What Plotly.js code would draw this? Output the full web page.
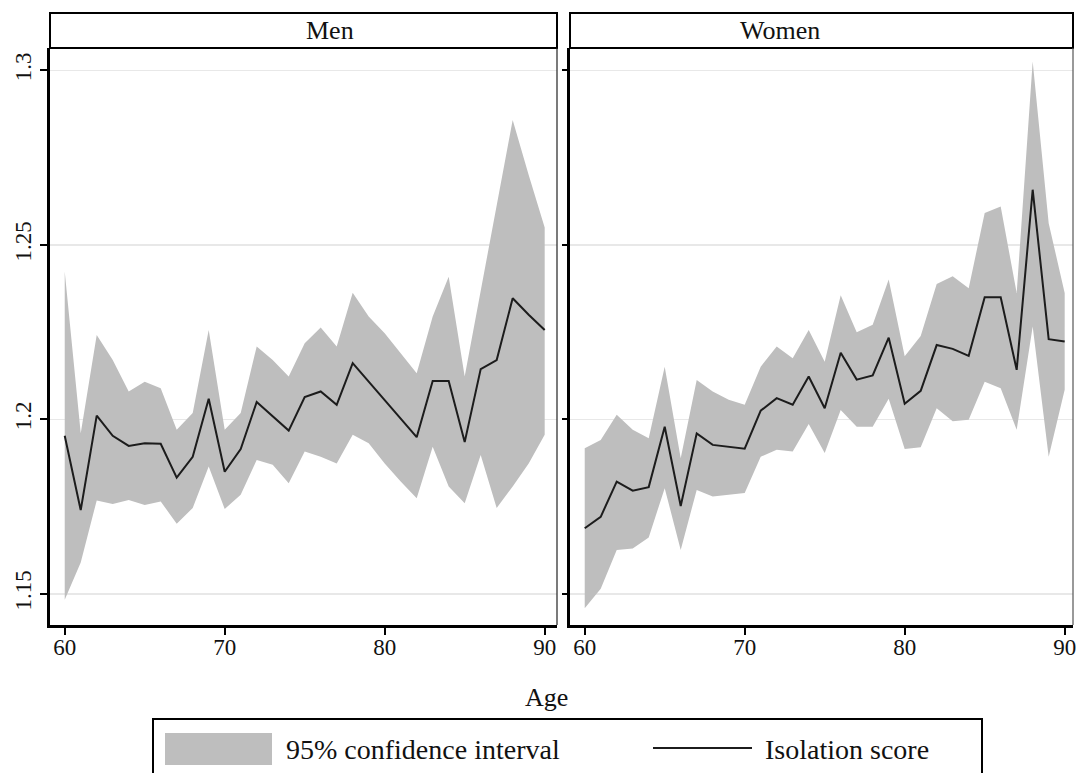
<!DOCTYPE html>
<html>
<head>
<meta charset="utf-8">
<script src="https://cdn.plot.ly/plotly-3.0.1.min.js"></script>
<style>html,body{margin:0;padding:0;background:#fff;}#chart{width:1076px;height:773px;}</style>
</head>
<body>
<div id="chart"></div>
<script>
const ages = [60,61,62,63,64,65,66,67,68,69,70,71,72,73,74,75,76,77,78,79,80,81,82,83,84,85,86,87,88,89,90];

const menScore = [1.1953,1.1740,1.2011,1.1953,1.1924,1.1932,1.1930,1.1833,1.1893,1.2059,1.1850,1.1915,1.2050,1.2008,1.1968,1.2064,1.2080,1.2042,1.2161,1.2108,1.2056,1.2002,1.1949,1.2110,1.2110,1.1935,1.2144,1.2170,1.2347,1.2300,1.2256];
const menUpper = [1.2424,1.1960,1.2242,1.2170,1.2080,1.2108,1.2089,1.1970,1.2018,1.2256,1.1970,1.2018,1.2209,1.2170,1.2123,1.2218,1.2263,1.2209,1.2363,1.2295,1.2247,1.2190,1.2132,1.2295,1.2409,1.2123,1.2371,1.2610,1.2858,1.2700,1.2550];
const menLower = [1.1483,1.1590,1.1768,1.1758,1.1769,1.1755,1.1765,1.1701,1.1746,1.1865,1.1743,1.1784,1.1884,1.1870,1.1817,1.1908,1.1893,1.1874,1.1956,1.1932,1.1874,1.1822,1.1774,1.1922,1.1808,1.1760,1.1898,1.1746,1.1808,1.1874,1.1956];

const womenScore = [1.1688,1.1721,1.1822,1.1796,1.1806,1.1979,1.1752,1.1960,1.1927,1.1922,1.1916,1.2025,1.2061,1.2042,1.2123,1.2032,1.2191,1.2114,1.2126,1.2234,1.2045,1.2082,1.2213,1.2202,1.2182,1.2350,1.2350,1.2142,1.2658,1.2230,1.2223];
const womenUpper = [1.1917,1.1941,1.2013,1.1970,1.1946,1.2151,1.1889,1.2113,1.2080,1.2056,1.2042,1.2151,1.2209,1.2175,1.2256,1.2165,1.2356,1.2250,1.2271,1.2401,1.2181,1.2239,1.2388,1.2410,1.2376,1.2591,1.2610,1.2362,1.3025,1.2562,1.2362];
const womenLower = [1.1459,1.1515,1.1626,1.1630,1.1662,1.1803,1.1626,1.1798,1.1779,1.1784,1.1789,1.1893,1.1913,1.1908,1.1987,1.1904,1.2027,1.1979,1.1979,1.2059,1.1915,1.1920,1.2032,1.1995,1.1999,1.2108,1.2089,1.1970,1.2266,1.1893,1.2085];

const panelNames = ['Men', 'Women'];
const xTicks = [60, 70, 80, 90];
const yTicks = [1.15, 1.2, 1.25, 1.3];
const yTickText = ['1.15', '1.2', '1.25', '1.3'];
const legendLabels = ['95% confidence interval', 'Isolation score'];

const BAND = '#bebebe';
const LINE = '#1c1c1c';
const FONT = 'Liberation Serif, Times New Roman, serif';

function panel(lower, upper, score, xa, ya) {
  return [
    {x: ages, y: lower, xaxis: xa, yaxis: ya, type: 'scatter', mode: 'lines',
     line: {width: 0, color: BAND}, hoverinfo: 'skip', showlegend: false},
    {x: ages, y: upper, xaxis: xa, yaxis: ya, type: 'scatter', mode: 'lines',
     fill: 'tonexty', fillcolor: BAND, line: {width: 0, color: BAND},
     name: legendLabels[0], showlegend: false},
    {x: ages, y: score, xaxis: xa, yaxis: ya, type: 'scatter', mode: 'lines',
     line: {width: 2, color: LINE}, name: legendLabels[1], showlegend: false}
  ];
}

const data = [].concat(
  panel(menLower, menUpper, menScore, 'x', 'y'),
  panel(womenLower, womenUpper, womenScore, 'x2', 'y2')
);

const L = 50, R = 3, T = 48, B = 148, W = 1076, H = 773;
const pw = W - L - R, ph = H - T - B;
const px = v => (v - L) / pw;          // pixel -> paper x
const py = v => (H - B - v) / ph;      // pixel -> paper y

const d1 = [0, px(557)];
const d2 = [px(570), 1];

const xCommon = {
  tickvals: xTicks, ticks: 'outside', ticklen: 7, tickwidth: 2, tickcolor: '#000',
  showline: true, linewidth: 3, linecolor: '#000', showgrid: false, zeroline: false,
  tickfont: {family: FONT, size: 23, color: '#111'}, ticklabelstandoff: -8,
  ticklabeloverflow: 'allow', fixedrange: true
};
const yCommon = {
  range: [1.1411, 1.3064], tickvals: yTicks, ticktext: yTickText,
  ticks: 'outside', tickwidth: 2, tickcolor: '#000',
  showline: true, linewidth: 3, linecolor: '#000',
  showgrid: true, gridcolor: '#e8e8e8', gridwidth: 1.5, zeroline: false,
  tickfont: {family: FONT, size: 23, color: '#111'}, fixedrange: true
};

const stripTop = py(13);
const shapes = [];
const annotations = [];
[d1, d2].forEach((d, i) => {
  shapes.push({type: 'rect', xref: 'paper', yref: 'paper', x0: d[0], x1: d[1], y0: 1, y1: stripTop,
               line: {color: '#000', width: 2}, fillcolor: '#fff', layer: 'above'});
  shapes.push({type: 'line', xref: 'paper', yref: 'paper', x0: d[1], x1: d[1], y0: 0, y1: 1,
               line: {color: i === 0 ? '#222' : '#555', width: 1.2}, layer: 'above'});
  annotations.push({xref: 'paper', yref: 'paper', x: (d[0] + d[1]) / 2, y: (1 + stripTop) / 2,
                    text: panelNames[i], showarrow: false, yanchor: 'middle',
                    font: {family: FONT, size: 26, color: '#111'}});
});

annotations.push({xref: 'paper', yref: 'paper', x: px(546), y: py(697), text: 'Age',
                  showarrow: false, yanchor: 'middle', font: {family: FONT, size: 26, color: '#111'}});

// legend box
shapes.push({type: 'rect', xref: 'paper', yref: 'paper', x0: px(153), x1: px(982), y0: py(719), y1: py(800),
             line: {color: '#000', width: 2}, fillcolor: 'rgba(0,0,0,0)'});
shapes.push({type: 'rect', xref: 'paper', yref: 'paper', x0: px(165), x1: px(272), y0: py(733), y1: py(765),
             line: {width: 0}, fillcolor: BAND});
shapes.push({type: 'line', xref: 'paper', yref: 'paper', x0: px(653), x1: px(752), y0: py(748), y1: py(748),
             line: {color: LINE, width: 2}});
annotations.push({xref: 'paper', yref: 'paper', x: px(284), y: py(749), xanchor: 'left', yanchor: 'middle',
                  text: legendLabels[0], showarrow: false, font: {family: FONT, size: 28, color: '#111'}});
annotations.push({xref: 'paper', yref: 'paper', x: px(763), y: py(749), xanchor: 'left', yanchor: 'middle',
                  text: legendLabels[1], showarrow: false, font: {family: FONT, size: 28, color: '#111'}});

const layout = {
  width: W, height: H,
  margin: {l: L, r: R, t: T, b: B, pad: 0},
  paper_bgcolor: '#fff', plot_bgcolor: '#fff',
  showlegend: false,
  xaxis: Object.assign({}, xCommon, {domain: d1, range: [59.08, 90.77], anchor: 'y'}),
  xaxis2: Object.assign({}, xCommon, {domain: d2, range: [59.08, 90.52], anchor: 'y2'}),
  yaxis: Object.assign({}, yCommon, {domain: [0, 1], anchor: 'x', ticklen: 7, tickangle: -90}),
  yaxis2: Object.assign({}, yCommon, {domain: [0, 1], anchor: 'x2', matches: 'y', ticklen: 5, showticklabels: false}),
  shapes: shapes,
  annotations: annotations
};

Plotly.newPlot('chart', data, layout, {displayModeBar: false, staticPlot: true});
</script>
</body>
</html>
